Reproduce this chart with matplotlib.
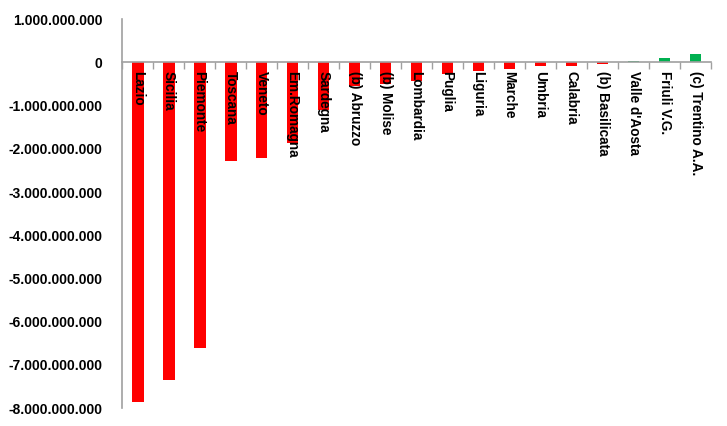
import numpy as np
import matplotlib.pyplot as plt
from matplotlib.ticker import FuncFormatter, FixedLocator

# --------------------------------------------------
# Data
# --------------------------------------------------
regions = [
    "Lazio", "Sicilia", "Piemonte", "Toscana", "Veneto", "Em.Romagna",
    "Sardegna", "(b) Abruzzo", "(b) Molise", "Lombardia", "Puglia",
    "Liguria", "Marche", "Umbria", "Calabria", "(b) Basilicata",
    "Valle d'Aosta", "Friuli V.G.", "(c) Trentino A.A.",
]
values = [
    -7.85e9, -7.34e9, -6.61e9, -2.28e9, -2.21e9, -1.86e9,
    -1.10e9, -0.55e9, -0.49e9, -0.43e9, -0.27e9,
    -0.20e9, -0.155e9, -0.085e9, -0.085e9, -0.03e9,
    0.04e9, 0.10e9, 0.19e9,
]
y_ticks = np.arange(-8e9, 1.5e9, 1e9)

plt.rcParams["font.family"] = ["Liberation Sans", "DejaVu Sans"]

fig = plt.figure(figsize=(7.27, 4.26), dpi=100)
ax = fig.add_axes([0.168, 0.042, 0.810, 0.913])

x = np.arange(len(regions))
colors = ["#FF0000" if v < 0 else "#00B050" for v in values]
ax.bar(x, values, width=0.38, color=colors, zorder=2)

# category labels, vertical, just under the zero line
for xi, name in zip(x, regions):
    ax.text(xi, -0.2e9, name, rotation=270, ha="center", va="top",
            fontsize=9.8, fontweight="bold", zorder=3)

ax.set_xlim(-0.5, len(regions) - 0.5)
ax.set_ylim(-8e9, 1e9)

ax.yaxis.set_major_locator(FixedLocator(y_ticks))
ax.yaxis.set_major_formatter(
    FuncFormatter(lambda v, p: f"{int(round(v)):,}".replace(",", "."))
)
ax.tick_params(axis="y", length=0, pad=14, labelsize=10)
for lab in ax.get_yticklabels():
    lab.set_fontweight("bold")

# x axis: line at zero, ticks at category boundaries
ax.spines["bottom"].set_position(("data", 0))
ax.xaxis.set_major_locator(FixedLocator(np.arange(-0.5, len(regions), 1)))
ax.set_xticklabels([])
ax.tick_params(axis="x", direction="out", length=5, color="#A0A0A0", width=1)

for s in ["top", "right"]:
    ax.spines[s].set_visible(False)
for s in ["left", "bottom"]:
    ax.spines[s].set_color("#A0A0A0")
    ax.spines[s].set_linewidth(1.2)

fig.savefig("out.png", dpi=100)
